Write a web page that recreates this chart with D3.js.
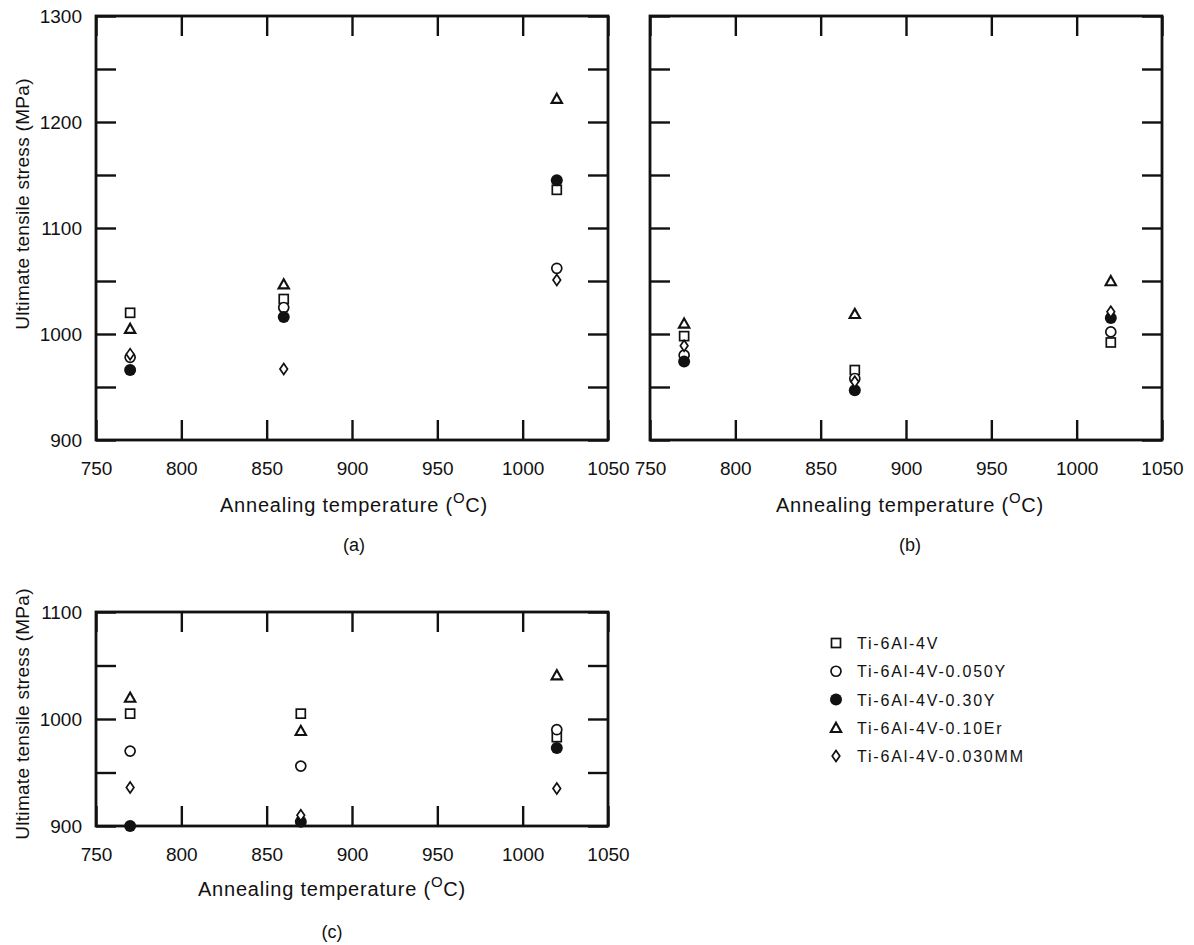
<!DOCTYPE html>
<html><head><meta charset="utf-8">
<script src="https://cdn.jsdelivr.net/npm/d3@7"></script>
<style>
body{margin:0;background:#fff;}
text{font-family:"Liberation Sans",Arial,sans-serif;fill:#111;}
</style></head>
<body><svg id="c" width="1194" height="945"></svg>
<script>
// ---- data ----
const seriesNames = ["Ti-6Al-4V","Ti-6Al-4V-0.050Y","Ti-6Al-4V-0.30Y","Ti-6Al-4V-0.10Er","Ti-6Al-4V-0.030MM"];
const seriesShapes = ["square","circle","filled","triangle","diamond"];
const tempsA = [770, 860, 1020];
const tempsB = [770, 870, 1020];
const tempsC = [770, 870, 1020];
const panelA_sq = [1020, 1033, 1136];
const panelA_circ = [978, 1025, 1062];
const panelA_filled = [966, 1016, 1145];
const panelA_tri = [1005, 1047, 1222];
const panelA_dia = [981, 967, 1051];
const panelB_sq = [998, 966, 992];
const panelB_circ = [980, 958, 1002];
const panelB_filled = [974, 947, 1015];
const panelB_tri = [1010, 1019, 1050];
const panelB_dia = [989, 955, 1021];
const panelC_sq = [1005, 1005, 983];
const panelC_circ = [970, 956, 990];
const panelC_filled = [900, 904, 973];
const panelC_tri = [1020, 989, 1041];
const panelC_dia = [936, 910, 935];
const xTicks = [750, 800, 850, 900, 950, 1000, 1050];
const yTicksAB = [900, 950, 1000, 1050, 1100, 1150, 1200, 1250, 1300];
const yLabelsAB = [900, 1000, 1100, 1200, 1300];
const yTicksC = [900, 950, 1000, 1050, 1100];
const yLabelsC = [900, 1000, 1100];

const svg = d3.select("#c");

function marker(g, shape, x, y) {
  const sw = 1.7;
  if (shape === "square") {
    g.append("rect").attr("x", x-4.5).attr("y", y-4.5).attr("width", 9).attr("height", 9)
      .attr("fill","#fff").attr("stroke","#111").attr("stroke-width", sw);
  } else if (shape === "circle") {
    g.append("circle").attr("cx", x).attr("cy", y).attr("r", 5)
      .attr("fill","#fff").attr("stroke","#111").attr("stroke-width", sw);
  } else if (shape === "filled") {
    g.append("circle").attr("cx", x).attr("cy", y).attr("r", 6).attr("fill","#111");
  } else if (shape === "triangle") {
    g.append("path").attr("d", `M${x},${y-5} L${x+5.2},${y+4.2} L${x-5.2},${y+4.2} Z`)
      .attr("fill","#fff").attr("stroke","#111").attr("stroke-width", 2.1);
  } else if (shape === "diamond") {
    g.append("path").attr("d", `M${x},${y-5.5} L${x+3.8},${y} L${x},${y+5.5} L${x-3.8},${y} Z`)
      .attr("fill","#fff").attr("stroke","#111").attr("stroke-width", sw);
  }
}

function titleX(g, cx, by) {
  const t = g.append("text").attr("x", cx).attr("y", by).attr("text-anchor","middle")
    .style("font-size","20px").style("letter-spacing","0.8px");
  t.append("tspan").text("Annealing temperature (");
  t.append("tspan").attr("dy", -9).style("font-size","15px").text("O");
  t.append("tspan").attr("dy", 9).text("C)");
}

function panel(opts) {
  const {x0, x1, y0, y1, yDomain, yTicks, yLabels, showYLabels, temps, series, tX, tY, tag, tagY, yTitleC} = opts;
  const x = d3.scaleLinear().domain([750, 1050]).range([x0, x1]);
  const y = d3.scaleLinear().domain(yDomain).range([y1, y0]);
  const g = svg.append("g");
  const tl = 20;
  const style = sel => {
    sel.select(".domain").remove();
    sel.selectAll(".tick line").attr("stroke","#111").attr("stroke-width", 2.4);
    sel.selectAll(".tick text").style("font-size","19px").attr("fill","#111");
  };
  const bx = g.append("g").attr("transform", `translate(0,${y1})`)
    .call(d3.axisBottom(x).tickValues(xTicks).tickSizeInner(-tl).tickSizeOuter(0).tickPadding(35).tickFormat(d3.format("d")))
    .call(style);
  bx.selectAll(".tick text").attr("dy", null);
  g.append("g").attr("transform", `translate(0,${y0})`)
    .call(d3.axisTop(x).tickValues(xTicks).tickSizeInner(-tl).tickSizeOuter(0).tickFormat(""))
    .call(style);
  g.append("g").attr("transform", `translate(${x0},0)`)
    .call(d3.axisLeft(y).tickValues(yTicks).tickSizeInner(-tl).tickSizeOuter(0).tickPadding(14)
      .tickFormat(d => (showYLabels && yLabels.includes(d)) ? d : ""))
    .call(style);
  g.append("g").attr("transform", `translate(${x1},0)`)
    .call(d3.axisRight(y).tickValues(yTicks).tickSizeInner(-tl).tickSizeOuter(0).tickFormat(""))
    .call(style);
  g.append("rect").attr("x", x0).attr("y", y0).attr("width", x1-x0).attr("height", y1-y0)
    .attr("fill","none").attr("stroke","#111").attr("stroke-width", 2.8);
  series.forEach((vals, si) => {
    vals.forEach((v, i) => marker(g, seriesShapes[si], x(temps[i]), y(v)));
  });
  titleX(g, tX, tY);
  g.append("text").attr("x", tX).attr("y", tagY).attr("text-anchor","middle").style("font-size","18px").text(tag);
  if (showYLabels) {
    g.append("text").attr("transform", `translate(29,${yTitleC}) rotate(-90)`)
      .attr("text-anchor","middle").style("font-size","19px").style("letter-spacing","0.3px").text("Ultimate tensile stress (MPa)");
  }
}

panel({x0:96, x1:608, y0:16, y1:440, yDomain:[900,1300], yTicks:yTicksAB, yLabels:yLabelsAB, showYLabels:true,
  temps:tempsA, series:[panelA_sq,panelA_circ,panelA_filled,panelA_tri,panelA_dia],
  tX:354, tY:512, tag:"(a)", tagY:551, yTitleC:204});
panel({x0:650, x1:1162, y0:16, y1:440, yDomain:[900,1300], yTicks:yTicksAB, yLabels:yLabelsAB, showYLabels:false,
  temps:tempsB, series:[panelB_sq,panelB_circ,panelB_filled,panelB_tri,panelB_dia],
  tX:910, tY:512, tag:"(b)", tagY:551});
panel({x0:96, x1:608, y0:612, y1:826, yDomain:[900,1100], yTicks:yTicksC, yLabels:yLabelsC, showYLabels:true,
  temps:tempsC, series:[panelC_sq,panelC_circ,panelC_filled,panelC_tri,panelC_dia],
  tX:332, tY:896, tag:"(c)", tagY:938, yTitleC:714});

// legend
const leg = svg.append("g");
const legY = d3.scalePoint().domain(seriesNames).range([643, 756]);
seriesNames.forEach((n, i) => {
  const yy = legY(n);
  marker(leg, seriesShapes[i], 836, yy);
  leg.append("text").attr("x", 857).attr("y", yy + 6).style("font-size","16px").style("letter-spacing","1.8px").text(n);
});
</script></body></html>
